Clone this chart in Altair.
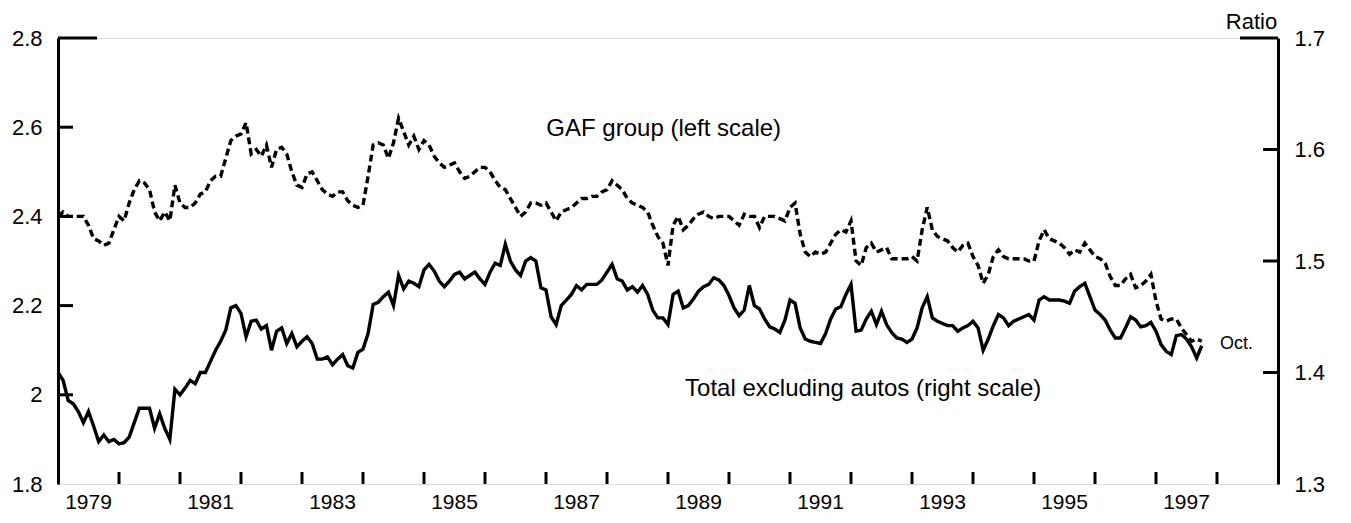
import altair as alt
import pandas as pd

START_YEAR = 1979

# GAF group ratio (left scale), monthly Jan 1979 - Oct 1997
GAF = [
    2.40, 2.41, 2.40, 2.40, 2.40, 2.40, 2.38, 2.35, 2.345, 2.335, 2.34, 2.37,
    2.40, 2.39, 2.43, 2.46, 2.48, 2.475, 2.46, 2.41, 2.39, 2.41, 2.39, 2.47,
    2.43, 2.42, 2.42, 2.43, 2.45, 2.455, 2.48, 2.49, 2.49, 2.53, 2.57, 2.58,
    2.585, 2.61, 2.54, 2.55, 2.535, 2.56, 2.51, 2.55, 2.555, 2.54, 2.50, 2.47,
    2.465, 2.495, 2.50, 2.48, 2.46, 2.45, 2.445, 2.455, 2.455, 2.435, 2.425, 2.42,
    2.425, 2.49, 2.56, 2.565, 2.56, 2.53, 2.565, 2.62, 2.59, 2.56, 2.58, 2.55,
    2.57, 2.56, 2.535, 2.52, 2.51, 2.515, 2.52, 2.50, 2.485, 2.49, 2.50, 2.51,
    2.51, 2.50, 2.48, 2.465, 2.46, 2.44, 2.42, 2.40, 2.41, 2.43, 2.43, 2.425,
    2.43, 2.41, 2.39, 2.41, 2.415, 2.42, 2.43, 2.44, 2.44, 2.445, 2.445, 2.455,
    2.46, 2.48, 2.47, 2.46, 2.44, 2.43, 2.425, 2.42, 2.41, 2.38, 2.355, 2.34,
    2.29, 2.38, 2.40, 2.37, 2.38, 2.395, 2.405, 2.41, 2.40, 2.395, 2.40, 2.40,
    2.40, 2.39, 2.38, 2.405, 2.40, 2.40, 2.375, 2.40, 2.40, 2.40, 2.395, 2.39,
    2.42, 2.43, 2.36, 2.32, 2.31, 2.32, 2.315, 2.32, 2.34, 2.36, 2.37, 2.365,
    2.39, 2.30, 2.29, 2.33, 2.34, 2.32, 2.325, 2.33, 2.305, 2.305, 2.305, 2.305,
    2.31, 2.30, 2.37, 2.42, 2.37, 2.355, 2.35, 2.345, 2.33, 2.32, 2.335, 2.34,
    2.31, 2.29, 2.25, 2.27, 2.31, 2.325, 2.31, 2.305, 2.305, 2.305, 2.305, 2.30,
    2.30, 2.345, 2.37, 2.35, 2.345, 2.34, 2.33, 2.315, 2.325, 2.32, 2.34, 2.325,
    2.31, 2.305, 2.295, 2.265, 2.245, 2.245, 2.26, 2.27, 2.24, 2.245, 2.255, 2.27,
    2.21, 2.17, 2.165, 2.17, 2.17, 2.15, 2.135, 2.12, 2.125, 2.12,
]

# Total excluding autos ratio (right scale)
TOTAL = [
    1.40, 1.393, 1.375, 1.372, 1.365, 1.355, 1.365, 1.352, 1.338, 1.344, 1.338, 1.34,
    1.336, 1.337, 1.342, 1.355, 1.368, 1.368, 1.368, 1.35, 1.363, 1.35, 1.34, 1.385,
    1.38, 1.386, 1.393, 1.39, 1.40, 1.40, 1.41, 1.42, 1.428, 1.438, 1.458, 1.46,
    1.453, 1.432, 1.446, 1.447, 1.439, 1.442, 1.42, 1.437, 1.44, 1.426, 1.435, 1.423,
    1.428, 1.432, 1.426, 1.412, 1.412, 1.414, 1.407, 1.412, 1.416, 1.406, 1.404, 1.418,
    1.421, 1.435, 1.461, 1.463, 1.468, 1.472, 1.46, 1.487, 1.475, 1.482, 1.48, 1.477,
    1.492, 1.497, 1.491, 1.482, 1.477, 1.482, 1.488, 1.49, 1.484, 1.487, 1.49, 1.484,
    1.479, 1.49, 1.498, 1.496, 1.515, 1.50, 1.492, 1.487, 1.50, 1.503, 1.50, 1.476,
    1.474, 1.45, 1.443, 1.46, 1.465, 1.47, 1.478, 1.474, 1.479, 1.479, 1.479, 1.483,
    1.49, 1.497, 1.484, 1.482, 1.474, 1.477, 1.472, 1.478, 1.47, 1.456, 1.449, 1.449,
    1.443, 1.47, 1.473, 1.458, 1.46, 1.466, 1.473, 1.477, 1.479, 1.485, 1.483, 1.478,
    1.469, 1.458, 1.451, 1.456, 1.478, 1.46, 1.457, 1.448, 1.441, 1.439, 1.436, 1.447,
    1.465, 1.462, 1.44, 1.43, 1.428, 1.427, 1.426, 1.435, 1.448, 1.457, 1.459, 1.47,
    1.479, 1.437, 1.438, 1.448, 1.455, 1.443, 1.455, 1.443, 1.436, 1.431, 1.43, 1.427,
    1.43, 1.44, 1.458, 1.468, 1.449, 1.446, 1.444, 1.442, 1.442, 1.437, 1.44, 1.442,
    1.446, 1.44, 1.42, 1.43, 1.442, 1.452, 1.449, 1.442, 1.446, 1.448, 1.45, 1.452,
    1.447, 1.465, 1.468, 1.465, 1.465, 1.465, 1.464, 1.462, 1.473, 1.477, 1.48, 1.468,
    1.456, 1.452, 1.447, 1.438, 1.431, 1.431, 1.44, 1.45, 1.447, 1.441, 1.442, 1.445,
    1.437, 1.425, 1.419, 1.416, 1.433, 1.434, 1.43, 1.423, 1.413, 1.424,
]

LEFT_LABELS = [1.8, 2.0, 2.2, 2.4, 2.6, 2.8]
RIGHT_LABELS = [1.3, 1.4, 1.5, 1.6, 1.7]
LEFT_TICKS = [2.0, 2.2, 2.4, 2.6]
LEFT_TOP = [2.8]
RIGHT_TICKS = [1.4, 1.5, 1.6]
RIGHT_TOP = [1.7]
YEAR_TICKS = list(range(1980, 1999))
YEAR_LABELS = [str(y) for y in range(1979, 1998, 2)]

ANN_LEFT = {"t": [1988.93], "v": [2.596], "label": ["GAF group (left scale)"]}
ANN_RIGHT = {"t": [1992.2], "v": [1.385], "label": ["Total excluding autos (right scale)"]}
ANN_OCT = {"t": [1998.05], "v": [1.426], "label": ["Oct."]}

W, H = 1220, 446
FONT = "Liberation Sans"

n = len(GAF)
df = pd.DataFrame({
    "t": [START_YEAR + i / 12 for i in range(n)],
    "gaf": GAF,
    "total": TOTAL,
})
year_df = pd.DataFrame({"label": YEAR_LABELS, "mid": [int(s) + 0.5 for s in YEAR_LABELS]})

xs = alt.Scale(domain=[1979, 1999], nice=False, zero=False)
ls = alt.Scale(domain=[1.8, 2.8], nice=False, zero=False)
rs = alt.Scale(domain=[1.3, 1.7], nice=False, zero=False)

x_axis = alt.Axis(
    labels=False, ticks=False, tickSize=0, grid=False, domainColor="black",
    domainWidth=3, title=None,
)
left_axis = alt.Axis(
    orient="left", values=LEFT_LABELS, format="~g", ticks=False, tickSize=0, grid=False,
    domainColor="black", domainWidth=3, labelFontSize=22, labelFont=FONT,
    labelColor="black", labelPadding=16, title=None,
)
right_axis = alt.Axis(
    orient="right", values=RIGHT_LABELS, format="~g", ticks=False, tickSize=0, grid=False,
    domainColor="black", domainWidth=3, labelFontSize=22, labelFont=FONT,
    labelColor="black", labelPadding=16, title="Ratio", titleAngle=0, titleX=-27,
    titleY=-10, titleAlign="center", titleBaseline="alphabetic", titleFontSize=22,
    titleFont=FONT, titleFontWeight="normal", titleColor="black",
)

X = lambda: alt.X("t:Q", scale=xs, axis=None)

gaf_line = alt.Chart(df).mark_line(color="black", strokeWidth=3.4, strokeDash=[7, 4]).encode(
    x=alt.X("t:Q", scale=xs, axis=x_axis),
    y=alt.Y("gaf:Q", scale=ls, axis=left_axis),
)
total_line = alt.Chart(df).mark_line(color="black", strokeWidth=3.4).encode(
    x=X(), y=alt.Y("total:Q", scale=rs, axis=right_axis),
)

left_ticks = alt.Chart(pd.DataFrame({"v": LEFT_TICKS})).mark_rule(color="black", strokeWidth=3).encode(
    y=alt.Y("v:Q", scale=ls, axis=None), x=alt.value(0), x2=alt.value(15),
)
left_top = alt.Chart(pd.DataFrame({"v": LEFT_TOP})).mark_rule(color="black", strokeWidth=3).encode(
    y=alt.Y("v:Q", scale=ls, axis=None), x=alt.value(0), x2=alt.value(39),
)
right_ticks = alt.Chart(pd.DataFrame({"v": RIGHT_TICKS})).mark_rule(color="black", strokeWidth=3).encode(
    y=alt.Y("v:Q", scale=rs, axis=None), x=alt.value(W - 15), x2=alt.value(W),
)
right_top = alt.Chart(pd.DataFrame({"v": RIGHT_TOP})).mark_rule(color="black", strokeWidth=3).encode(
    y=alt.Y("v:Q", scale=rs, axis=None), x=alt.value(W - 38), x2=alt.value(W),
)
x_ticks = alt.Chart(pd.DataFrame({"yr": YEAR_TICKS})).mark_rule(color="black", strokeWidth=3).encode(
    x=alt.X("yr:Q", scale=xs, axis=None), y=alt.value(H - 12), y2=alt.value(H),
)
x_labels = alt.Chart(year_df).mark_text(
    align="center", baseline="middle", fontSize=21, font=FONT, color="black"
).encode(x=alt.X("mid:Q", scale=xs, axis=None), y=alt.value(H + 19), text="label:N")

left_text = alt.Chart(pd.DataFrame(ANN_LEFT)).mark_text(
    align="center", baseline="middle", fontSize=24, font=FONT, color="black"
).encode(x=X(), y=alt.Y("v:Q", scale=ls, axis=None), text="label:N")
right_text = alt.Chart(pd.DataFrame(ANN_RIGHT)).mark_text(
    align="center", baseline="middle", fontSize=24, font=FONT, color="black"
).encode(x=X(), y=alt.Y("v:Q", scale=rs, axis=None), text="label:N")
oct_text = alt.Chart(pd.DataFrame(ANN_OCT)).mark_text(
    align="left", baseline="middle", fontSize=18, font=FONT, color="black"
).encode(x=X(), y=alt.Y("v:Q", scale=rs, axis=None), text="label:N")

chart = alt.layer(
    gaf_line, left_ticks, left_top, left_text,
    total_line, right_ticks, right_top, right_text, oct_text,
    x_ticks, x_labels,
).resolve_scale(y="independent").properties(
    width=W, height=H,
    autosize=alt.AutoSizeParams(type="none"),
    padding={"left": 50, "top": 30, "right": 65, "bottom": 31},
).configure_view(stroke=None).configure(background="white")

chart.save("out.html", embed_options={"renderer": "svg", "actions": False})
